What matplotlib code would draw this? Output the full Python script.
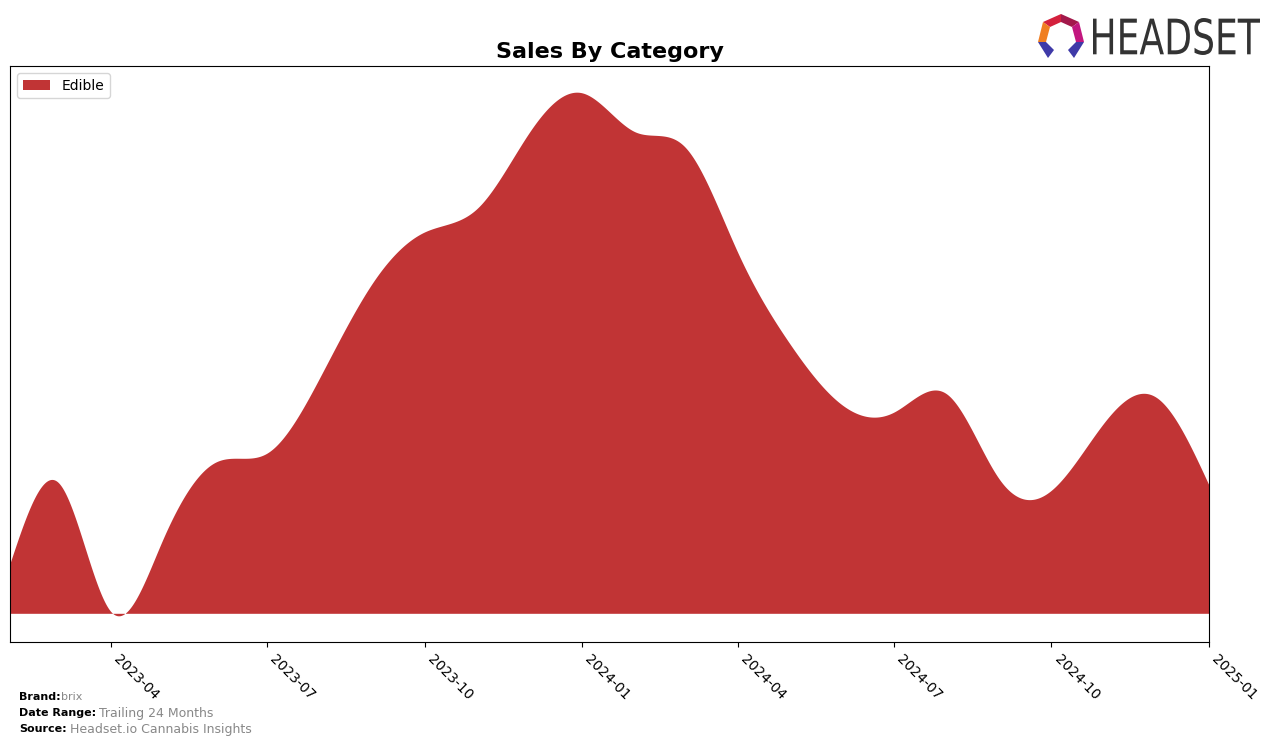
import numpy as np
import pandas as pd
import matplotlib
matplotlib.use("Agg")
import matplotlib.pyplot as plt
import matplotlib.dates as mdates
from matplotlib.textpath import TextPath
from matplotlib.font_manager import FontProperties
from matplotlib.patches import PathPatch, Polygon
from matplotlib.transforms import Affine2D

# ---- data (monthly sales) ----
months = ["2023-02", "2023-03", "2023-04", "2023-05", "2023-06", "2023-07",
          "2023-08", "2023-09", "2023-10", "2023-11", "2023-12", "2024-01",
          "2024-02", "2024-03", "2024-04", "2024-05", "2024-06", "2024-07",
          "2024-08", "2024-09", "2024-10", "2024-11", "2024-12", "2025-01"]
edible_sales = [5000, 13100, 150, 7300, 15100, 16000,
                23600, 33100, 38100, 40500, 48000, 52000,
                48100, 46600, 36000, 27000, 20800, 20100,
                21900, 13300, 12300, 19100, 21600, 12800]
category = "Edible"
tick_labels = ["2023-04", "2023-07", "2023-10", "2024-01",
               "2024-04", "2024-07", "2024-10", "2025-01"]
brand = "brix"
date_range = "Trailing 24 Months"
source = "Headset.io Cannabis Insights"


def natural_spline(x, y, xs):
    x = np.asarray(x, float); y = np.asarray(y, float)
    n = len(x)
    h = np.diff(x)
    A = np.zeros((n, n)); b = np.zeros(n)
    A[0, 0] = 1; A[-1, -1] = 1
    for i in range(1, n - 1):
        A[i, i - 1] = h[i - 1]
        A[i, i] = 2 * (h[i - 1] + h[i])
        A[i, i + 1] = h[i]
        b[i] = 3 * ((y[i + 1] - y[i]) / h[i] - (y[i] - y[i - 1]) / h[i - 1])
    c = np.linalg.solve(A, b)
    idx = np.clip(np.searchsorted(x, xs) - 1, 0, n - 2)
    dx = xs - x[idx]
    bb = (y[idx + 1] - y[idx]) / h[idx] - h[idx] * (2 * c[idx] + c[idx + 1]) / 3
    dd = (c[idx + 1] - c[idx]) / (3 * h[idx])
    return y[idx] + bb * dx + c[idx] * dx ** 2 + dd * dx ** 3


dates = pd.to_datetime(months)
xnum = mdates.date2num(dates)
xs = np.linspace(xnum[0], xnum[-1], 1500)
ys = natural_spline(xnum, edible_sales, xs)

W, H = 1276, 745
fig = plt.figure(figsize=(W / 100, H / 100), dpi=100)

# logo layer (pixel coordinates)
lax = fig.add_axes([0, 0, 1, 1])
lax.set_xlim(0, W); lax.set_ylim(H, 0); lax.axis("off")
segs = [
    ([(1043, 22), (1061, 14), (1061, 22), (1050, 27)], "#d4213d"),
    ([(1061, 14), (1079, 22), (1072, 27), (1061, 22)], "#a3194b"),
    ([(1079, 22), (1084, 42), (1076, 42), (1072, 27)], "#c2177f"),
    ([(1043, 22), (1050, 27), (1046, 42), (1038, 42)], "#f07f22"),
    ([(1038, 42), (1046, 42), (1054, 50), (1048, 58)], "#3f3aa8"),
    ([(1076, 42), (1084, 42), (1074, 58), (1068, 50)], "#3f3aa8"),
]
for pts, col in segs:
    lax.add_patch(Polygon(pts, closed=True, facecolor=col, edgecolor="none"))
tp = TextPath((0, 0), "HEADSET", size=1, prop=FontProperties(family="DejaVu Sans"))
ext = tp.get_extents()
tr = (Affine2D().translate(-ext.x0, -ext.y0)
      .scale(167 / ext.width, -37 / ext.height).translate(1093, 55))
lax.add_patch(PathPatch(tr.transform_path(tp), facecolor="#333333", edgecolor="none"))

ax = fig.add_axes([10 / W, 1 - 642 / H, (1209 - 10) / W, (642 - 66) / H])
ax.fill_between(xs, ys, 0, color="#c13435", label=category, linewidth=0)
ax.set_xlim(xnum[0], xnum[-1])
ax.set_yticks([])
ticks = mdates.date2num(pd.to_datetime(tick_labels))
ax.set_xticks(ticks)
ax.set_xticklabels(tick_labels, rotation=-45, ha="left", fontsize=10)
ax.set_title("Sales By Category", fontsize=16, fontweight="bold", pad=6)
ax.legend(loc="upper left", fontsize=10)

fig.text(19 / W, 1 - 697 / H, "Brand:", fontsize=8, fontweight="bold", va="center")
fig.text(61 / W, 1 - 697 / H, brand, fontsize=8, color="#888888", va="center")
fig.text(19 / W, 1 - 713 / H, "Date Range:", fontsize=8, fontweight="bold", va="center")
fig.text(99 / W, 1 - 713 / H, date_range, fontsize=9, color="#888888", va="center")
fig.text(19 / W, 1 - 729 / H, "Source:", fontsize=8, fontweight="bold", va="center")
fig.text(70 / W, 1 - 729 / H, source, fontsize=9, color="#888888", va="center")

fig.savefig("out.png", dpi=100)
